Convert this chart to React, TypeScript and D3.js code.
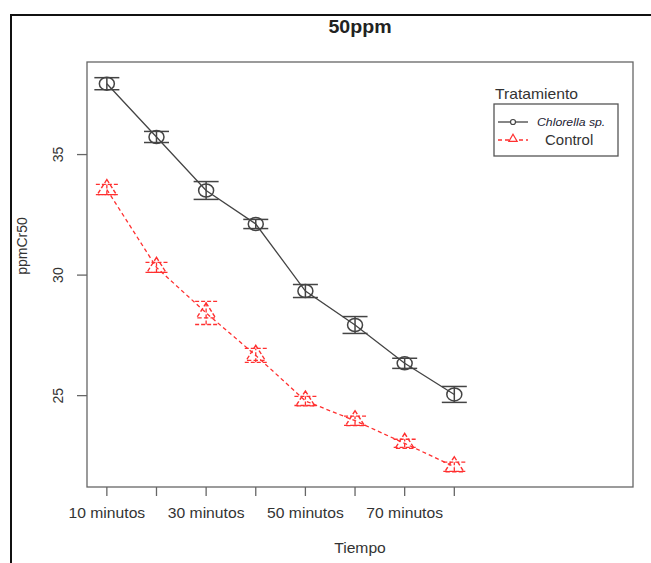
import React, { useEffect, useRef } from 'react';
import * as d3 from 'd3';

// x categories (only every other label is printed, like R drops overlapping ones)
const tiempos = ['10 minutos', '20 minutos', '30 minutos', '40 minutos', '50 minutos', '60 minutos', '70 minutos', '80 minutos'];
const shownLabels = ['10 minutos', '30 minutos', '50 minutos', '70 minutos'];

const chlorellaMean = [37.94, 35.73, 33.51, 32.12, 29.34, 27.93, 26.34, 25.05];
const chlorellaErr = [0.25, 0.23, 0.37, 0.19, 0.27, 0.35, 0.21, 0.33];
const controlMean = [33.55, 30.32, 28.43, 26.67, 24.78, 23.96, 23.02, 22.05];
const controlErr = [0.21, 0.21, 0.48, 0.29, 0.19, 0.19, 0.17, 0.19];

const yTicks = [25, 30, 35];

const W = 651;
const H = 563;
const FONT = 'Liberation Sans, Arial, sans-serif';
// the source screenshot is slightly stretched horizontally
const STRETCH = 1.12;

const App = () => {
  const svgRef = useRef<SVGSVGElement>(null);

  useEffect(() => {
    const plot = { left: 87, top: 62, right: 633, bottom: 487 };

    const svg = d3.select(svgRef.current);
    svg.selectAll('*').remove();

    const label = (px: number, py: number, txt: string, size: number, anchor = 'middle', sx = STRETCH) =>
      svg.append('text')
        .attr('transform', `translate(${px},${py}) scale(${sx},1)`)
        .attr('text-anchor', anchor)
        .attr('font-family', FONT)
        .attr('font-size', size)
        .attr('fill', '#333')
        .text(txt);

    // outer frame of the screenshot
    svg.append('rect')
      .attr('x', 11).attr('y', 15)
      .attr('width', 700).attr('height', 600)
      .attr('fill', 'white')
      .attr('stroke', '#111')
      .attr('stroke-width', 2);

    const x = d3.scaleLinear().domain([0.6, 11.6]).range([plot.left, plot.right]);
    const y = d3.scaleLinear().domain([21.21, 38.84]).range([plot.bottom, plot.top]);

    // plot box
    svg.append('rect')
      .attr('x', plot.left).attr('y', plot.top)
      .attr('width', plot.right - plot.left).attr('height', plot.bottom - plot.top)
      .attr('fill', 'none')
      .attr('stroke', '#666')
      .attr('stroke-width', 1.3);

    // title
    label((plot.left + plot.right) / 2, 33, '50ppm', 17.5)
      .attr('font-weight', 'bold')
      .attr('fill', '#222');

    // x axis
    tiempos.forEach((t, i) => {
      svg.append('line')
        .attr('x1', x(i + 1)).attr('x2', x(i + 1))
        .attr('y1', plot.bottom).attr('y2', plot.bottom + 9)
        .attr('stroke', '#666').attr('stroke-width', 1.3);
      if (shownLabels.includes(t)) {
        label(x(i + 1), 518, t, 14);
      }
    });

    label((plot.left + plot.right) / 2, 553, 'Tiempo', 14);

    // y axis
    yTicks.forEach(v => {
      svg.append('line')
        .attr('x1', plot.left - 10).attr('x2', plot.left)
        .attr('y1', y(v)).attr('y2', y(v))
        .attr('stroke', '#666').attr('stroke-width', 1.3);
      svg.append('text')
        .attr('transform', `translate(${plot.left - 24},${y(v)}) rotate(-90)`)
        .attr('text-anchor', 'middle')
        .attr('font-family', FONT)
        .attr('font-size', 14)
        .attr('fill', '#333')
        .text(v);
    });

    svg.append('text')
      .attr('transform', `translate(27,246) rotate(-90)`)
      .attr('text-anchor', 'middle')
      .attr('font-family', FONT)
      .attr('font-size', 14)
      .attr('fill', '#333')
      .text('ppmCr50');

    const line = d3.line<number>()
      .x((d, i) => x(i + 1))
      .y(d => y(d));

    // control series (red dashed, triangles)
    const red = '#ff3030';
    svg.append('path')
      .datum(controlMean)
      .attr('fill', 'none')
      .attr('stroke', red)
      .attr('stroke-width', 1.3)
      .attr('stroke-dasharray', '4,3')
      .attr('d', line);

    controlMean.forEach((m, i) => {
      const cx = x(i + 1);
      const e = controlErr[i];
      const g = svg.append('g')
        .attr('stroke', red)
        .attr('stroke-width', 1.3)
        .attr('stroke-dasharray', '4,2')
        .attr('fill', 'none');
      g.append('line').attr('x1', cx).attr('x2', cx).attr('y1', y(m - e)).attr('y2', y(m + e));
      g.append('line').attr('x1', cx - 11).attr('x2', cx + 11).attr('y1', y(m + e)).attr('y2', y(m + e));
      g.append('line').attr('x1', cx - 11).attr('x2', cx + 11).attr('y1', y(m - e)).attr('y2', y(m - e));
      g.append('path')
        .attr('transform', `translate(${cx},${y(m)}) scale(1.1,1)`)
        .attr('d', d3.symbol(d3.symbolTriangle, 130)());
    });

    // chlorella series (black solid, circles)
    const dark = '#444';
    svg.append('path')
      .datum(chlorellaMean)
      .attr('fill', 'none')
      .attr('stroke', dark)
      .attr('stroke-width', 1.3)
      .attr('d', line);

    chlorellaMean.forEach((m, i) => {
      const cx = x(i + 1);
      const e = chlorellaErr[i];
      const g = svg.append('g')
        .attr('stroke', dark)
        .attr('stroke-width', 1.5);
      g.append('line').attr('x1', cx).attr('x2', cx).attr('y1', y(m - e)).attr('y2', y(m + e));
      g.append('line').attr('x1', cx - 12.5).attr('x2', cx + 12.5).attr('y1', y(m + e)).attr('y2', y(m + e));
      g.append('line').attr('x1', cx - 12.5).attr('x2', cx + 12.5).attr('y1', y(m - e)).attr('y2', y(m - e));
      g.append('ellipse')
        .attr('cx', cx).attr('cy', y(m))
        .attr('rx', 7.5).attr('ry', 6.5)
        .attr('fill', 'none')
        .attr('stroke', dark);
    });

    // legend
    label(495, 99, 'Tratamiento', 14, 'start');
    svg.append('rect')
      .attr('x', 494).attr('y', 104)
      .attr('width', 124).attr('height', 52)
      .attr('fill', 'white')
      .attr('stroke', '#555')
      .attr('stroke-width', 1.3);
    svg.append('line')
      .attr('x1', 498).attr('x2', 528).attr('y1', 122).attr('y2', 122)
      .attr('stroke', dark).attr('stroke-width', 1.3);
    svg.append('circle')
      .attr('cx', 513).attr('cy', 122).attr('r', 2.5)
      .attr('fill', 'white').attr('stroke', dark).attr('stroke-width', 1.2);
    label(537, 126, 'Chlorella sp.', 11.5, 'start', 1.07)
      .attr('font-style', 'italic')
      .attr('fill', '#223');
    svg.append('line')
      .attr('x1', 498).attr('x2', 528).attr('y1', 140).attr('y2', 140)
      .attr('stroke', red).attr('stroke-width', 1.3).attr('stroke-dasharray', '4,3');
    svg.append('path')
      .attr('transform', 'translate(513,139)')
      .attr('d', d3.symbol(d3.symbolTriangle, 30)())
      .attr('fill', 'white').attr('stroke', red).attr('stroke-width', 1.2);
    label(545, 145, 'Control', 14, 'start', 1.07);
  }, []);

  return (
    <svg
      ref={svgRef}
      width={W}
      height={H}
      style={{ position: 'absolute', left: 0, top: 0, background: 'white' }}
    />
  );
};

export default App;
